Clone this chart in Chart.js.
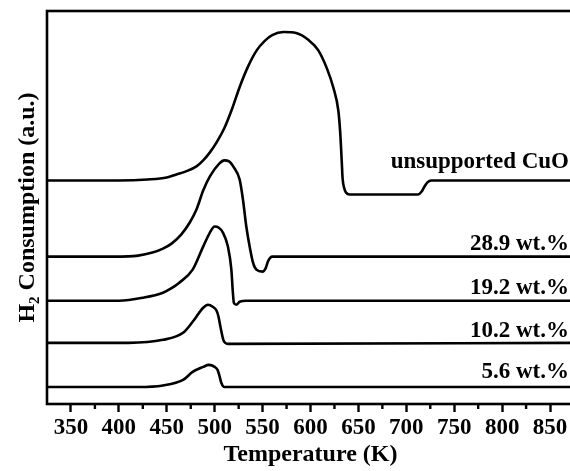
<!DOCTYPE html>
<html>
<head>
<meta charset="utf-8">
<script src="https://cdn.jsdelivr.net/npm/chart.js@4.4.0/dist/chart.umd.min.js"></script>
<style>
  html, body { margin: 0; padding: 0; background: #fff; overflow: hidden; }
  #wrap { width: 570px; height: 471px; overflow: hidden; }
</style>
</head>
<body>
<div id="wrap"><canvas id="c" width="590" height="471"></canvas></div>
<script>
/* H2-TPR profiles, curves stacked with a vertical offset (a.u.) */
const sampleNames = ["unsupported CuO", "28.9 wt.%", "19.2 wt.%", "10.2 wt.%", "5.6 wt.%"];
const baselines = [223, 147, 103, 61, 17];   // offset of each trace

const tempCuO = [325, 400, 430, 450, 460, 470, 481, 488, 495, 502, 510, 518, 526, 535, 544, 552, 560, 572, 585, 598, 608, 617, 624, 629, 631, 632.5, 633.5, 635, 637, 641, 700, 712, 716, 719, 722, 726, 875];
const sigCuO  = [0, 0, 1, 3, 6, 9, 14, 20, 28, 38, 52, 71, 93, 114, 130, 139, 145, 148, 147, 140, 130, 112, 92, 70, 48, 21, 2, -7, -12, -14, -14, -14, -11, -6, -2, 0, 0];

const temp289 = [325, 395, 420, 435, 446, 455, 465, 474, 481, 488, 495, 505, 510, 515, 520, 526, 529.5, 533, 536.5, 540, 543.5, 550, 553, 556, 560, 875];
const sig289  = [0, 0, 1, 4, 8, 13, 22, 34, 47, 66, 80, 93, 96, 95, 89, 77, 57, 30, 10, -6, -13, -15, -12, -4, 0, 0];

const temp192 = [325, 400, 425, 446, 455, 463, 477, 488, 495, 500, 504, 508.6, 513.8, 517.4, 519, 520, 522.6, 526, 533, 875];
const sig192  = [0, 0, 3, 8, 12.5, 18, 31, 54, 68, 74, 73, 68, 54, 31, 8, -2, -4, -1, 0, 0];

const temp102 = [325, 410, 446, 467, 477, 488, 493, 498, 502, 504, 506, 509, 511, 514, 875];
const sig102  = [0, 0, 3, 10, 21, 35, 38, 36, 32, 26, 16, 3, 0, -1, 0];

const temp56 = [325, 420, 446, 467, 477, 488, 494, 500, 503, 505, 507, 510, 875];
const sig56  = [0, 0, 1.5, 7, 15, 20, 22, 20, 17, 11, 4, 0, 0];

const majorTicks = [350, 400, 450, 500, 550, 600, 650, 700, 750, 800, 850];
const minorTicks = [375, 425, 475, 525, 575, 625, 675, 725, 775, 825];

const temps = [tempCuO, temp289, temp192, temp102, temp56];
const sigs = [sigCuO, sig289, sig192, sig102, sig56];

const FONT = '"Liberation Serif", "Times New Roman", serif';
const labelGap = [12, 7, 7, 6, 9];

const datasets = sampleNames.map((name, i) => ({
  label: name,
  data: temps[i].map((t, k) => ({ x: t, y: baselines[i] + sigs[i][k] })),
  borderColor: "#000",
  borderWidth: 2.6,
  pointRadius: 0,
  fill: false,
  cubicInterpolationMode: "monotone",
  borderJoinStyle: "round",
  borderCapStyle: "round",
}));

/* ── frame, minor ticks, curve labels, y title ── */
const decor = {
  id: "decor",
  afterDraw(chart) {
    const { ctx, chartArea: a, scales: { x, y } } = chart;
    ctx.save();
    ctx.strokeStyle = "#000";
    ctx.lineWidth = 2.6;
    ctx.strokeRect(a.left, a.top, a.right - a.left, a.bottom - a.top);

    ctx.lineWidth = 2.4;
    minorTicks.forEach(v => {
      const px = x.getPixelForValue(v);
      ctx.beginPath();
      ctx.moveTo(px, a.bottom);
      ctx.lineTo(px, a.bottom + 5);
      ctx.stroke();
    });

    ctx.fillStyle = "#000";
    ctx.font = "bold 23px " + FONT;
    ctx.textAlign = "right";
    ctx.textBaseline = "alphabetic";
    sampleNames.forEach((n, i) => {
      ctx.fillText(n, 569, y.getPixelForValue(baselines[i]) - labelGap[i]);
    });

    // rotated y title with subscript
    const big = "bold 24px " + FONT, small = "bold 15px " + FONT;
    const parts = [["H", big, 0], ["2", small, 5], [" Consumption (a.u.)", big, 0]];
    let w = 0;
    parts.forEach(p => { ctx.font = p[1]; w += ctx.measureText(p[0]).width; });
    ctx.translate(34, (a.top + a.bottom) / 2);
    ctx.rotate(-Math.PI / 2);
    ctx.textAlign = "left";
    let cx = -w / 2;
    parts.forEach(p => {
      ctx.font = p[1];
      ctx.fillText(p[0], cx, p[2]);
      cx += ctx.measureText(p[0]).width;
    });
    ctx.restore();
  }
};

new Chart(document.getElementById("c"), {
  type: "line",
  data: { datasets },
  options: {
    responsive: false,
    devicePixelRatio: 1,
    animation: false,
    events: [],
    layout: { padding: { top: 11, right: 16, left: 0, bottom: 0 } },
    plugins: { legend: { display: false }, tooltip: { enabled: false } },
    scales: {
      x: {
        type: "linear",
        min: 325, max: 875,
        afterFit: s => { s.height = 67; },
        afterBuildTicks: s => { s.ticks = majorTicks.map(v => ({ value: v })); },
        border: { display: false },
        grid: { display: true, drawOnChartArea: false, drawTicks: true, tickLength: 8, tickWidth: 2.4, tickColor: "#000" },
        ticks: {
          autoSkip: false, maxRotation: 0, padding: 2, color: "#000",
          font: { family: FONT, size: 23, weight: "bold" },
          callback: v => String(v),
        },
        title: {
          display: true, text: "Temperature (K)", color: "#000",
          font: { family: FONT, size: 24, weight: "bold" },
          padding: { top: 0, bottom: 2 },
        },
      },
      y: {
        min: 0, max: 392,
        afterFit: s => { s.width = 47; },
        border: { display: false },
        grid: { display: false },
        ticks: { display: false },
      },
    },
  },
  plugins: [decor],
});
</script>
</body>
</html>
